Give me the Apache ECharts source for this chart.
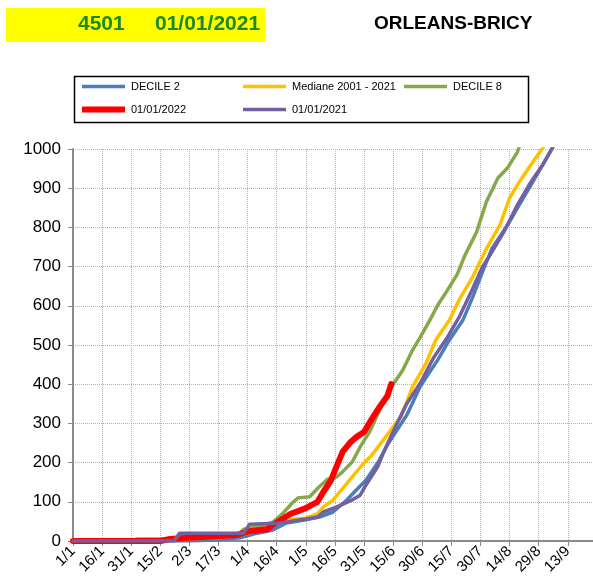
<!DOCTYPE html>
<html>
<head>
<meta charset="utf-8">
<script src="https://cdn.jsdelivr.net/npm/echarts@6/dist/echarts.min.js"></script>
<style>
  html, body { margin: 0; padding: 0; background: #fff; }
  #chart { width: 593px; height: 588px; }
</style>
</head>
<body>
<div id="chart"></div>
<script>
const fontArial = "'Liberation Sans', Arial, sans-serif"

// x = day since 1 January, y = cumulated value
const tickLabels = ['1/1', '16/1', '31/1', '15/2', '2/3', '17/3', '1/4', '16/4', '1/5', '16/5', '31/5', '15/6', '30/6', '15/7', '30/7', '14/8', '29/8', '13/9']

const decile2 = [
  [0, 0], [60, 0], [75, 3], [86, 8], [95, 20], [103, 28], [110, 46], [120, 54], [127, 61], [134, 74],
  [141, 104], [146, 130], [151, 155], [157, 199], [162, 245], [167, 283], [172, 321], [174, 342],
  [179, 395], [188, 462], [194, 513], [201, 564], [206, 622], [211, 686], [216, 747], [224, 806],
  [229, 849], [236, 908], [242, 959], [247, 1002], [249, 1025],
]
const mediane = [
  [0, 0], [45, 0], [55, 5], [75, 8], [85, 15], [90, 20], [98, 33], [103, 43], [112, 54], [120, 59],
  [126, 69], [129, 87], [134, 104], [139, 134], [144, 164], [150, 199], [154, 219], [160, 258],
  [165, 291], [169, 316], [175, 393], [182, 454], [187, 513], [194, 564], [199, 615], [206, 674],
  [213, 745], [220, 806], [225, 875], [230, 916], [237, 967], [242, 1002], [244, 1025],
]
const decile8 = [
  [0, 0], [30, 0], [33, 5], [52, 5], [55, 12], [85, 15], [88, 30], [95, 36], [103, 48], [108, 70],
  [113, 97], [116, 110], [122, 113], [126, 134], [131, 157], [136, 164], [139, 177], [144, 202],
  [148, 240], [153, 280], [158, 334], [163, 385], [170, 436], [175, 487], [179, 520], [184, 564],
  [188, 602], [193, 640], [198, 680], [202, 729], [208, 788], [213, 865], [219, 926], [224, 952],
  [229, 992], [231, 1020],
]
const year2022 = [
  [0, 0], [45, 0], [50, 5], [60, 8], [75, 12], [85, 16], [91, 25], [100, 30], [103, 41], [112, 69],
  [120, 84], [126, 100], [129, 125], [133, 155], [136, 192], [139, 228], [143, 252], [146, 265],
  [150, 278], [153, 303], [158, 342], [162, 370], [164, 400],
]
const year2021 = [
  [0, 0], [52, 0], [55, 20], [88, 20], [91, 43], [105, 45], [120, 56], [126, 61], [129, 74], [136, 87],
  [144, 105], [148, 117], [151, 143], [157, 189], [160, 225], [163, 258], [167, 300], [170, 330],
  [172, 350], [179, 403], [186, 469], [193, 520], [199, 571], [205, 633], [211, 699], [215, 730],
  [222, 788], [229, 857], [236, 916], [242, 959], [247, 1002], [249, 1025],
]

const seriesDefs = [
  { name: 'DECILE 2', data: decile2, color: '#4a7ebb', width: 3.5 },
  { name: 'Mediane 2001 - 2021', data: mediane, color: '#ffc000', width: 3.5 },
  { name: 'DECILE 8', data: decile8, color: '#86a84c', width: 3.5 },
  { name: '01/01/2022', data: year2022, color: '#ff0000', width: 6 },
  { name: '01/01/2021', data: year2021, color: '#7460a0', width: 3.5 },
]

const chart = echarts.init(document.getElementById('chart'), null, { renderer: 'canvas' })

// legend sample = a flat bar, as thick as the line
const legendItem = name => {
  const s = seriesDefs.find(d => d.name === name)
  return { name, icon: 'path://M0,0H43V' + s.width + 'H0Z' }
}

const legendBase = {
  orient: 'vertical',
  top: 81,
  itemWidth: 43,
  itemHeight: 14,
  itemGap: 12,
  padding: 0,
  selectedMode: false,
  symbolKeepAspect: true,
  textStyle: { fontFamily: fontArial, fontSize: 11, color: '#000', padding: [0, 0, 0, 1] },
}

const gray = '#8a8a8a'

chart.setOption({
  animation: false,
  backgroundColor: '#fff',
  textStyle: { fontFamily: fontArial },
  graphic: [
    { type: 'rect', shape: { x: 6, y: 8, width: 259, height: 34 }, style: { fill: '#ffff00' } },
    { type: 'text', left: 78, top: 14, style: { text: '4501', fill: '#1e8a1e', font: "bold 21px 'Liberation Sans', Arial" } },
    { type: 'text', left: 155, top: 14, style: { text: '01/01/2021', fill: '#1e8a1e', font: "bold 21px 'Liberation Sans', Arial" } },
    { type: 'text', left: 374, top: 14, style: { text: 'ORLEANS-BRICY', fill: '#000', font: "bold 19px 'Liberation Sans', Arial" } },
    { type: 'rect', shape: { x: 74.5, y: 76.5, width: 454, height: 46 }, style: { fill: '#fff', stroke: '#000', lineWidth: 1.5 }, z: -1 },
  ],
  legend: [
    Object.assign({}, legendBase, { left: 82, data: ['DECILE 2', '01/01/2022'].map(legendItem) }),
    Object.assign({}, legendBase, { left: 243, data: ['Mediane 2001 - 2021', '01/01/2021'].map(legendItem) }),
    Object.assign({}, legendBase, { left: 404, data: ['DECILE 8'].map(legendItem) }),
  ],
  grid: { left: 73, right: 0, top: 149, bottom: 47, outerBoundsMode: 'none' },
  xAxis: {
    type: 'value',
    min: 0,
    max: 268,
    interval: 15,
    axisLine: { show: true, lineStyle: { color: gray, width: 2 } },
    axisTick: { show: true, length: 5, lineStyle: { color: gray, width: 1 } },
    axisLabel: {
      rotate: 45,
      margin: 8,
      fontSize: 15,
      color: '#000',
      fontFamily: fontArial,
      showMaxLabel: false,
      formatter: v => (v % 15 === 0 && tickLabels[v / 15]) || '',
    },
    splitLine: { show: true, lineStyle: { color: '#b4b4b4', type: 'dotted', width: 1 } },
  },
  yAxis: {
    type: 'value',
    min: 0,
    max: 1000,
    interval: 100,
    axisLine: { show: true, lineStyle: { color: gray, width: 2 } },
    axisTick: { show: true, length: 5, lineStyle: { color: gray, width: 1 } },
    axisLabel: { fontSize: 17, color: '#000', margin: 12, fontFamily: fontArial, formatter: v => String(v) },
    splitLine: { show: true, lineStyle: { color: '#b4b4b4', type: 'dotted', width: 1 } },
  },
  series: seriesDefs.map(s => ({
    name: s.name,
    type: 'line',
    data: s.data,
    symbol: 'none',
    color: s.color,
    itemStyle: { color: s.color },
    lineStyle: { color: s.color, width: s.width, cap: 'round', join: 'round' },
    clip: true,
  })),
})
</script>
</body>
</html>
